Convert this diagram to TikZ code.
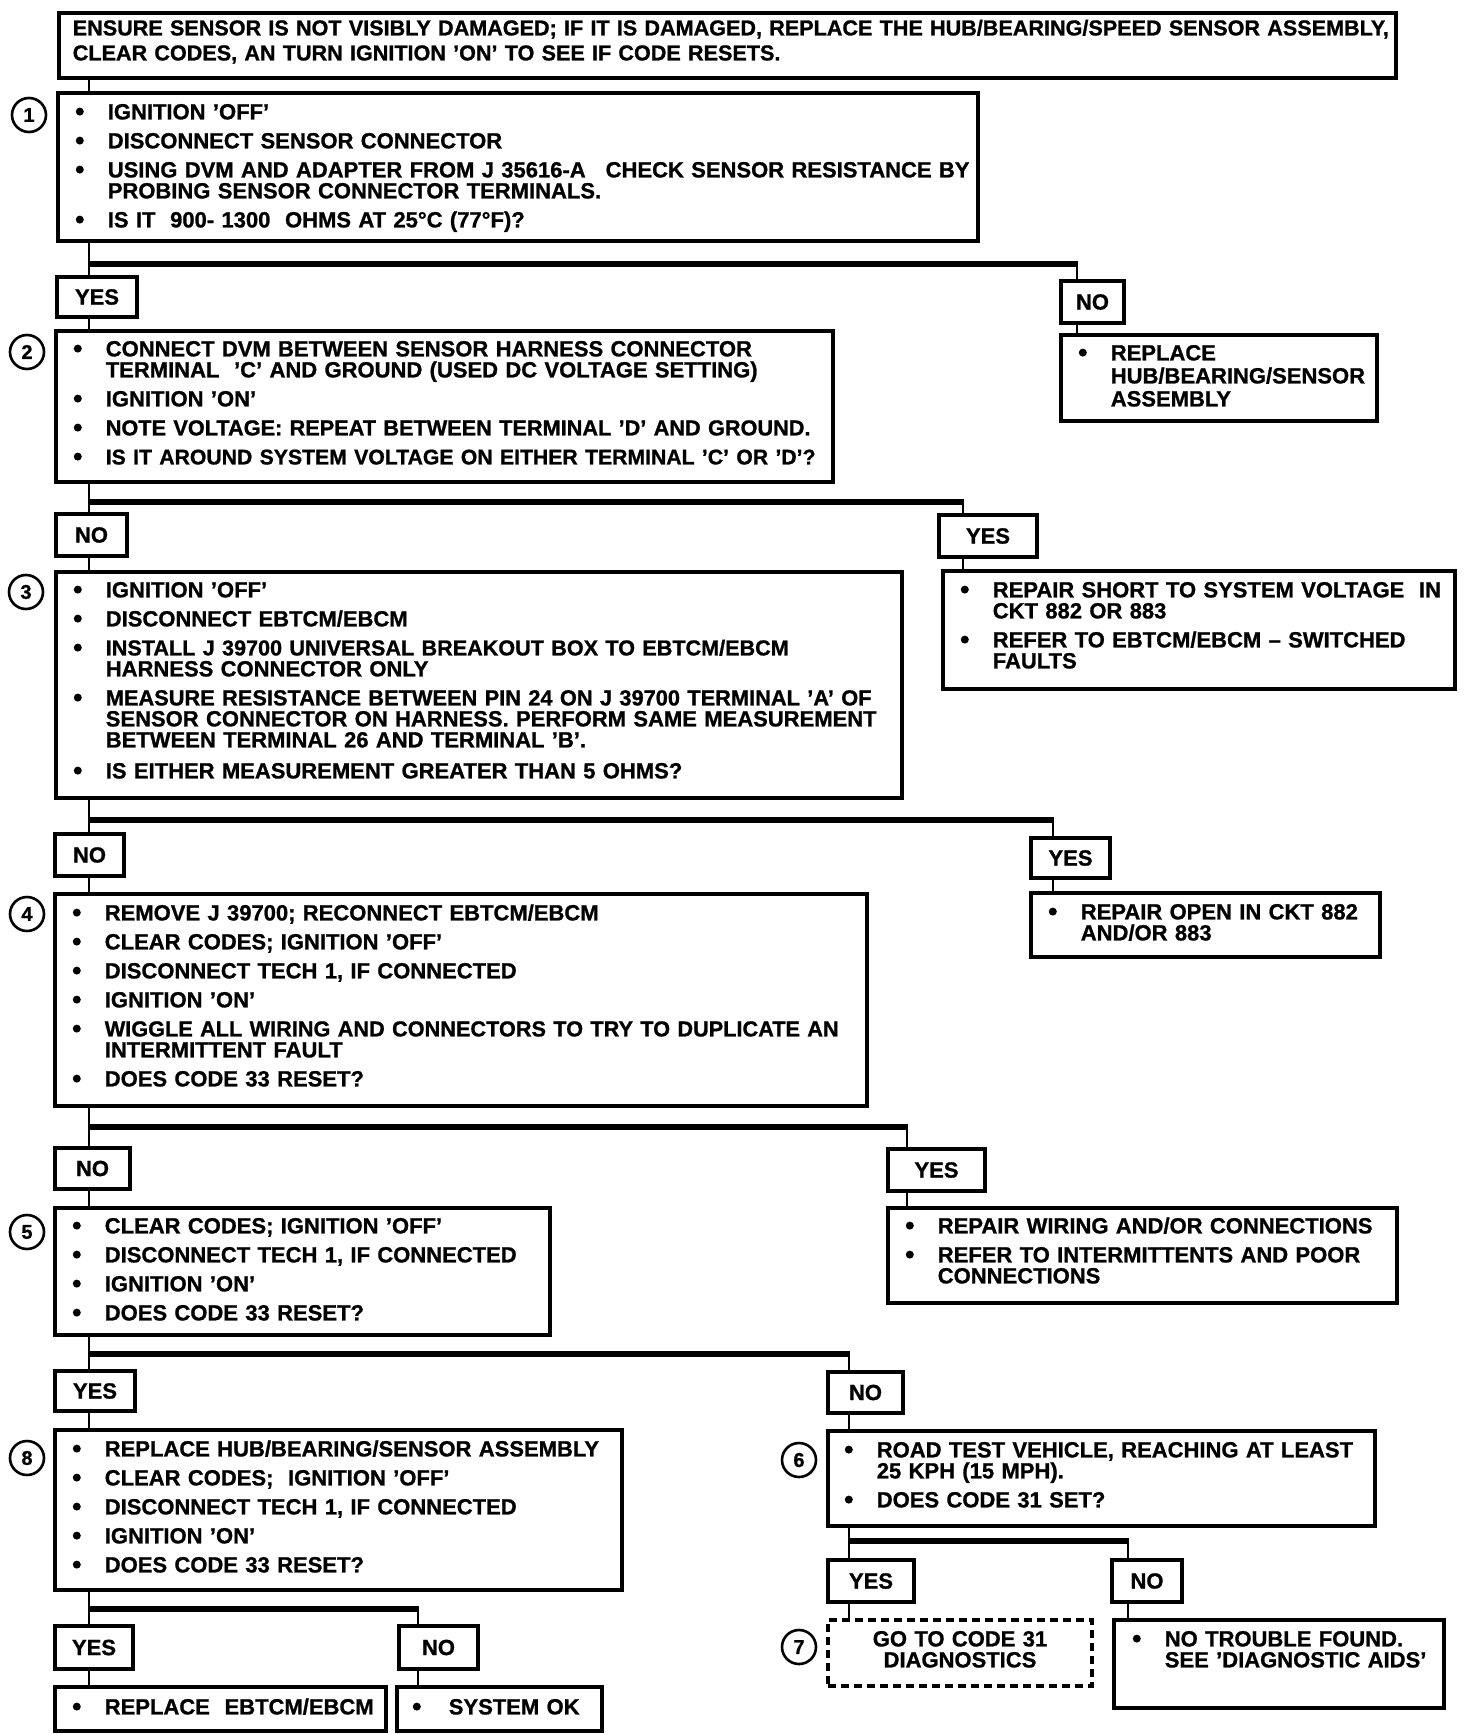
\documentclass[tikz,border=0pt]{standalone}
\usepackage{fontspec}
\setmainfont{Liberation Sans}[BoldFeatures={FakeBold=1}]
\usetikzlibrary{fit,calc}
\newcommand\tf{\fontsize{11}{10.5}\selectfont\bfseries}
\newsavebox\bulbox
\newcommand\bl{\makebox[17pt][l]{\hspace{1pt}\usebox\bulbox}}
\newcommand\ind{\hspace*{17pt}}
\newcommand\sz[2]{{\fontsize{#1}{10.5}\selectfont #2}}
\tikzset{
  box/.style={draw, line width=1.6pt, inner sep=0pt},
  dbox/.style={box, dash pattern=on 4pt off 2.5pt},
  lbl/.style={draw, line width=1.6pt, fill=white, inner sep=0pt},
  lbltxt/.style={inner sep=0pt, font=\tf},
  txt/.style={anchor=base west, inner sep=0pt, align=left, text width=#1, font=\tf},
  ctxt/.style={anchor=base, inner sep=0pt, align=center, text width=120pt, font=\tf},
  hl/.style={line width=2.6pt},
  vl/.style={line width=1.2pt},
  num/.style={circle, draw, line width=1.3pt, minimum size=17pt, inner sep=0pt, font=\fontsize{10}{12}\selectfont\bfseries},
}
\begin{document}
\sbox\bulbox{\begin{pgfpicture}\pgfpathcircle{\pgfpoint{0pt}{0pt}}{2pt}\pgfusepath{fill}\pgfsetbaseline{-3.9pt}\end{pgfpicture}}%
\begin{tikzpicture}[x=0.5pt,y=-0.5pt]
\path[use as bounding box, fill=white] (0,0) rectangle (1472,1734);

% ---------- branch coordinates ----------
\coordinate (h1) at (89,264);  \coordinate (r1) at (1077,264);
\coordinate (h2) at (89,502);  \coordinate (r2) at (963,502);
\coordinate (h3) at (89,820);  \coordinate (r3) at (1053,820);
\coordinate (h4) at (89,1127); \coordinate (r4) at (907,1127);
\coordinate (h5) at (89,1354); \coordinate (r5) at (849,1354);
\coordinate (h6) at (849,1541); \coordinate (r6) at (1128,1541);
\coordinate (h8) at (89,1609); \coordinate (r8) at (418,1609);

% ---------- boxes ----------
\node[box, fit={(59,13) (1396,78)}] (top) {};
\node[box, fit={(58,93) (978,241)}] (b1) {};
\node[box, fit={(56,331) (833,482)}] (b2) {};
\node[box, fit={(56,572) (902,798)}] (b3) {};
\node[box, fit={(55,894) (867,1106)}] (b4) {};
\node[box, fit={(55,1208) (550,1335)}] (b5) {};
\node[box, fit={(55,1430) (622,1590)}] (b8) {};
\node[box, fit={(828,1431) (1375,1526)}] (b6) {};
\node[dbox, fit={(828,1620) (1092,1686)}] (b7) {};
\node[box, fit={(1114,1620) (1444,1708)}] (nt) {};
\node[box, fit={(55,1687) (386,1731)}] (reb) {};
\node[box, fit={(397,1687) (602,1731)}] (sok) {};
\node[box, fit={(1061,335) (1377,421)}] (rhub) {};
\node[box, fit={(943,571) (1455,689)}] (rshort) {};
\node[box, fit={(1031,893) (1380,957)}] (ropen) {};
\node[box, fit={(888,1208) (1397,1303)}] (rwire) {};

% ---------- connectors ----------
\draw[vl] (top.south -| h1) -- (b1.north -| h1);
\draw[vl] (b1.south -| h1) -- (b2.north -| h1);
\draw[vl] (b2.south -| h2) -- (b3.north -| h2);
\draw[vl] (b3.south -| h3) -- (b4.north -| h3);
\draw[vl] (b4.south -| h4) -- (b5.north -| h4);
\draw[vl] (b5.south -| h5) -- (b8.north -| h5);
\draw[vl] (b8.south -| h8) -- (reb.north -| h8);
\draw[vl] (b6.south -| h6) -- (b7.north -| h6);

\draw[hl] (h1) -- ([xshift=0.6pt]r1);
\draw[hl] (h2) -- ([xshift=0.6pt]r2);
\draw[hl] (h3) -- ([xshift=0.6pt]r3);
\draw[hl] (h4) -- ([xshift=0.6pt]r4);
\draw[hl] (h5) -- ([xshift=0.6pt]r5);
\draw[hl] (h6) -- ([xshift=0.6pt]r6);
\draw[hl] (h8) -- ([xshift=0.6pt]r8);

\draw[vl] (r1) -- (rhub.north -| r1);
\draw[vl] (r2) -- (rshort.north -| r2);
\draw[vl] (r3) -- (ropen.north -| r3);
\draw[vl] (r4) -- (rwire.north -| r4);
\draw[vl] (r5) -- (b6.north -| r5);
\draw[vl] (r6) -- (nt.north -| r6);
\draw[vl] (r8) -- (sok.north -| r8);

% ---------- YES / NO labels ----------
\node[lbl, fit={(57,277) (137,317)}] (y1) {};
\node[lbl, fit={(1061,281) (1124,323)}] (n1) {};
\node[lbl, fit={(56,514) (127,556)}] (n2) {};
\node[lbl, fit={(939,515) (1037,557)}] (y2) {};
\node[lbl, fit={(55,834) (124,876)}] (n3) {};
\node[lbl, fit={(1031,838) (1110,878)}] (y3) {};
\node[lbl, fit={(55,1148) (130,1189)}] (n4) {};
\node[lbl, fit={(888,1149) (985,1191)}] (y4) {};
\node[lbl, fit={(55,1371) (135,1411)}] (y5) {};
\node[lbl, fit={(828,1372) (903,1413)}] (n5) {};
\node[lbl, fit={(828,1560) (914,1602)}] (y6) {};
\node[lbl, fit={(1112,1560) (1182,1602)}] (n6) {};
\node[lbl, fit={(55,1626) (133,1669)}] (y8) {};
\node[lbl, fit={(399,1626) (478,1669)}] (n8) {};
\foreach \n/\t in {y1/YES,n1/NO,n2/NO,y2/YES,n3/NO,y3/YES,n4/NO,y4/YES,y5/YES,n5/NO,y6/YES,n6/NO,y8/YES,n8/NO}
  \node[lbltxt] (\n-t) at (\n.center) {\t};

% ---------- step numbers ----------
\node[num] (c1) at (29,115) {1};
\node[num] (c2) at (27,352) {2};
\node[num] (c3) at (26,592) {3};
\node[num] (c4) at (27,914) {4};
\node[num] (c5) at (27,1232) {5};
\node[num] (c8) at (27,1458) {8};
\node[num] (c6) at (799,1460) {6};
\node[num] (c7) at (799,1647) {7};

% ---------- texts ----------
\node[txt=670pt, font=\fontsize{10.8}{12.5}\selectfont\bfseries] (ttop) at ($(top.north west)+(15,24)$)
  {ENSURE SENSOR IS NOT VISIBLY DAMAGED; IF IT IS DAMAGED, REPLACE THE HUB/BEARING/SPEED SENSOR ASSEMBLY,\\
   CLEAR CODES, AN TURN IGNITION 'ON' TO SEE IF CODE RESETS.};

\node[txt=460pt] (t1) at ($(b1.north west)+(17,28)$)
  {\bl IGNITION 'OFF'\\[4pt]
   \bl DISCONNECT SENSOR CONNECTOR\\[4pt]
   \bl USING DVM AND ADAPTER FROM J 35616-A\hspace{10pt}CHECK SENSOR RESISTANCE BY\\
   \ind PROBING SENSOR CONNECTOR TERMINALS.\\[4pt]
   \bl IS IT\ \ 900- 1300\ \ OHMS AT 25°C (77°F)?};

\node[txt=385pt] (t2) at ($(b2.north west)+(17,27)$)
  {\bl CONNECT DVM BETWEEN SENSOR HARNESS CONNECTOR\\
   \ind TERMINAL\ \ 'C' AND GROUND (USED DC VOLTAGE SETTING)\\[4pt]
   \bl IGNITION 'ON'\\[4pt]
   \bl \sz{10.85}{NOTE VOLTAGE: REPEAT BETWEEN TERMINAL 'D' AND GROUND.}\\[4pt]
   \bl \sz{10.6}{IS IT AROUND SYSTEM VOLTAGE ON EITHER TERMINAL 'C' OR 'D'?}};

\node[txt=420pt] (t3) at ($(b3.north west)+(17,27)$)
  {\bl IGNITION 'OFF'\\[4pt]
   \bl DISCONNECT EBTCM/EBCM\\[4pt]
   \bl \sz{10.8}{INSTALL J 39700 UNIVERSAL BREAKOUT BOX TO EBTCM/EBCM}\\
   \ind HARNESS CONNECTOR ONLY\\[4pt]
   \bl \sz{10.9}{MEASURE RESISTANCE BETWEEN PIN 24 ON J 39700 TERMINAL 'A' OF}\\
   \ind SENSOR CONNECTOR ON HARNESS. PERFORM SAME MEASUREMENT\\
   \ind BETWEEN TERMINAL 26 AND TERMINAL 'B'.\\[5pt]
   \bl IS EITHER MEASUREMENT GREATER THAN 5 OHMS?};

\node[txt=400pt] (t4) at ($(b4.north west)+(17,28)$)
  {\bl REMOVE J 39700; RECONNECT EBTCM/EBCM\\[4pt]
   \bl CLEAR CODES; IGNITION 'OFF'\\[4pt]
   \bl DISCONNECT TECH 1, IF CONNECTED\\[4pt]
   \bl IGNITION 'ON'\\[4pt]
   \bl \sz{10.85}{WIGGLE ALL WIRING AND CONNECTORS TO TRY TO DUPLICATE AN}\\
   \ind INTERMITTENT FAULT\\[4pt]
   \bl DOES CODE 33 RESET?};

\node[txt=240pt] (t5) at ($(b5.north west)+(17,27)$)
  {\bl CLEAR CODES; IGNITION 'OFF'\\[4pt]
   \bl DISCONNECT TECH 1, IF CONNECTED\\[4pt]
   \bl IGNITION 'ON'\\[4pt]
   \bl DOES CODE 33 RESET?};

\node[txt=276pt] (t8) at ($(b8.north west)+(17,28)$)
  {\bl REPLACE HUB/BEARING/SENSOR ASSEMBLY\\[4pt]
   \bl CLEAR CODES;\ \ IGNITION 'OFF'\\[4pt]
   \bl DISCONNECT TECH 1, IF CONNECTED\\[4pt]
   \bl IGNITION 'ON'\\[4pt]
   \bl DOES CODE 33 RESET?};

\node[txt=268pt] (t6) at ($(b6.north west)+(16,28)$)
  {\bl ROAD TEST VEHICLE, REACHING AT LEAST\\
   \ind 25 KPH (15 MPH).\\[4pt]
   \bl DOES CODE 31 SET?};

\node[ctxt] (t7) at ($(b7.north)+(0,28)$)
  {GO TO CODE 31\\ DIAGNOSTICS};

\node[txt=155pt] (tnt) at ($(nt.north west)+(18,28)$)
  {\bl NO TROUBLE FOUND.\\
   \ind SEE 'DIAGNOSTIC AIDS'};

\node[txt=157pt] (treb) at ($(reb.north west)+(17,29)$)
  {\bl REPLACE\ \ EBTCM/EBCM};

\node[txt=95pt] (tsok) at ($(sok.north west)+(15,29)$)
  {\makebox[19pt][l]{\hspace{1pt}\usebox\bulbox}SYSTEM OK};

\node[txt=150pt] (trhub) at ($(rhub.north west)+(17,27)$)
  {\bl REPLACE\\[1pt]
   \ind HUB/BEARING/SENSOR\\[1pt]
   \ind ASSEMBLY};

\node[txt=248pt] (trshort) at ($(rshort.north west)+(17,28)$)
  {\bl REPAIR SHORT TO SYSTEM VOLTAGE\ \ IN\\
   \ind CKT 882 OR 883\\[4pt]
   \bl REFER TO EBTCM/EBCM -- SWITCHED\\
   \ind FAULTS};

\node[txt=166pt] (tropen) at ($(ropen.north west)+(17,28)$)
  {\bl REPAIR OPEN IN CKT 882\\
   \ind AND/OR 883};

\node[txt=246pt] (trwire) at ($(rwire.north west)+(17,27)$)
  {\bl REPAIR WIRING AND/OR CONNECTIONS\\[4pt]
   \bl REFER TO INTERMITTENTS AND POOR\\
   \ind CONNECTIONS};
\end{tikzpicture}
\end{document}
